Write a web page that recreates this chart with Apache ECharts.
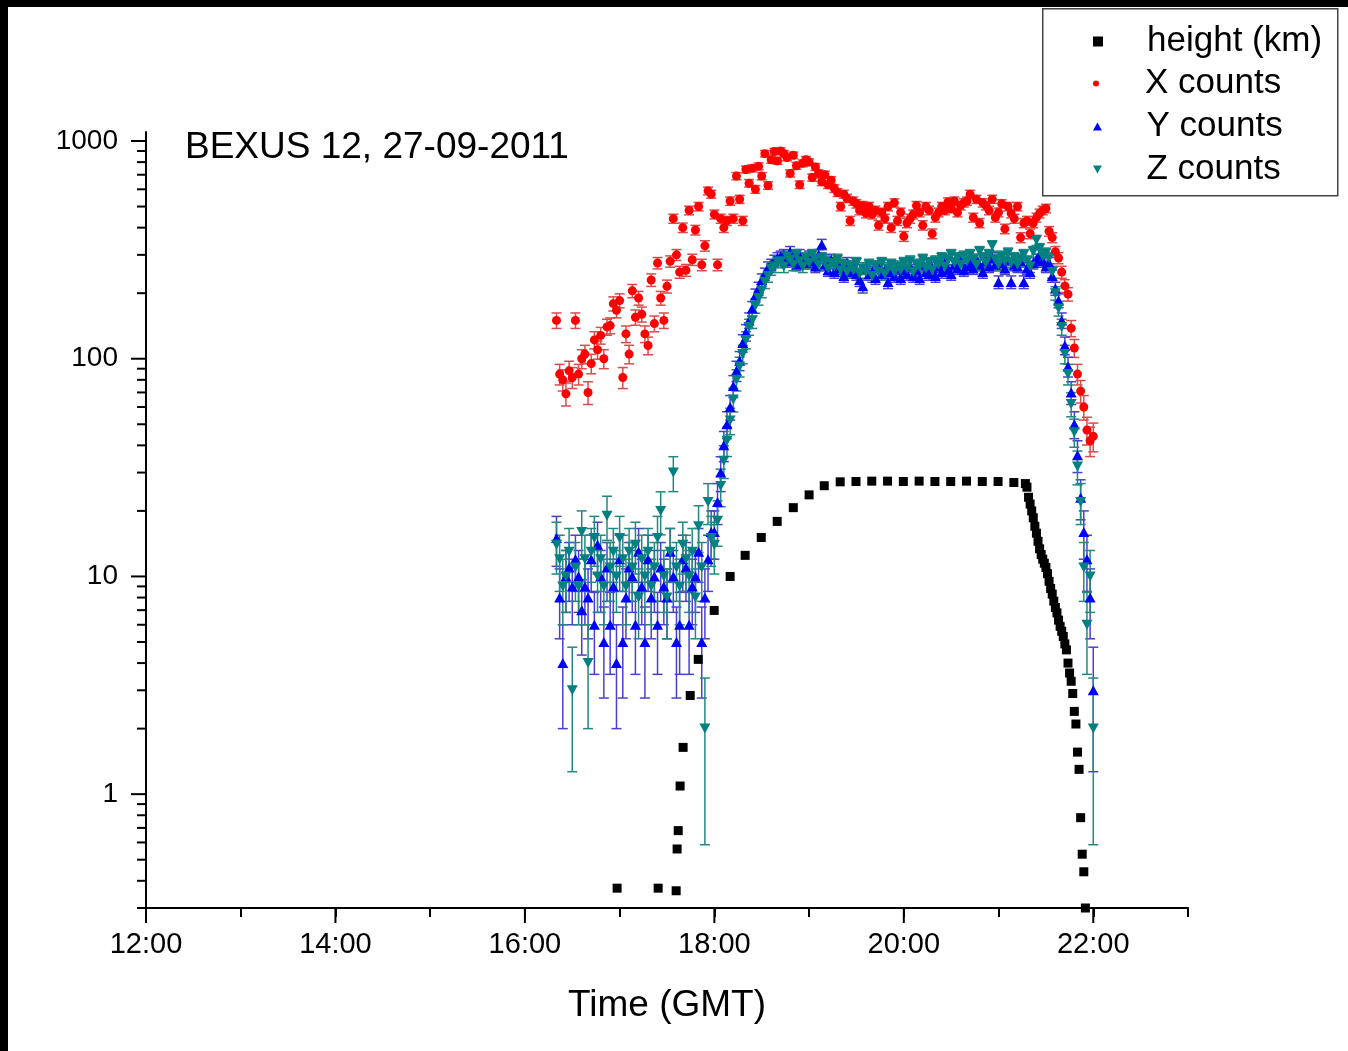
<!DOCTYPE html>
<html><head><meta charset="utf-8">
<script src="https://cdn.jsdelivr.net/npm/echarts@6/dist/echarts.min.js"></script>
<style>
html,body{margin:0;padding:0;background:#000;width:1348px;height:1051px;overflow:hidden}
#chart{position:absolute;left:8px;top:7px;width:1340px;height:1044px;background:#fff}
</style></head><body><div id="chart"></div>
<script>
// ---- time grid for counts (minutes since midnight): 16:20 + 2 min steps ----
const T_START = 16 * 60 + 20;
const T_STEP = 2;

// X counts (red)
const xCounts = [
  150, 85, 80, 69, 88, 82, 150, 85, 100, 105,
  70, 95, 122, 110, 128, 100, 140, 142, 179, 167,
  185, 82, 130, 105, 205, 155, 190, 160, 130, 115,
  230, 145, 275, 190, 150, 215, 280, 440, 300, 250,
  400, 255, 480, 285, 390, 500, 270, 330, 590, 570,
  460, 270, 440, 400, 430, 530, 440, 690, 540, 430,
  740, 640, 750, 600, 765, 690, 875, 625, 820, 895,
  810, 900, 875, 840, 710, 860, 770, 630, 790, 820,
  800, 680, 760, 710, 650, 700, 630, 660, 605, 580,
  500, 570, 545, 430, 530, 515, 480, 505, 465, 500,
  460, 480, 410, 470, 440, 500, 400, 520, 430, 470,
  365, 420, 440, 460, 505, 470, 410, 500, 480, 375,
  445, 470, 500, 480, 525, 490, 530, 470, 505, 520,
  530, 570, 445, 540, 420, 520, 505, 480, 540, 445,
  470, 515, 395, 500, 465, 440, 500, 360, 420, 430,
  375, 420, 445, 465, 480, 490, 385, 360, 310, 290,
  250, 216, 198, 138, 112, 85, 71, 60, 47, 42, 44
];

// Y counts (blue)
const yCounts = [
  15, 8, 4, 10, 11, 9, 12, 10, 7, 9,
  8, 12, 6, 14, 10, 5, 11, 6, 9, 4,
  12, 5, 8, 11, 10, 6, 13, 9, 5, 12,
  8, 10, 6, 11, 9, 8, 13, 10, 5, 6,
  12, 11, 6, 9, 10, 13, 5, 8, 12, 16,
  16, 22, 30, 40, 50, 60, 75, 88, 98, 118,
  132, 150, 170, 195, 210, 230, 245, 262, 270, 282, 290,
  295, 300, 280, 310, 290, 270, 300, 285, 275, 295,
  280, 265, 300, 335, 270, 255, 285, 250, 270, 260,
  240, 275, 250, 265, 245, 230, 215, 260, 245, 250,
  235, 265, 245, 255, 225, 250, 240, 260, 235, 255,
  245, 265, 240, 255, 235, 270, 250, 245, 260, 240,
  265, 250, 275, 255, 245, 270, 260, 280, 255, 265,
  275, 260, 285, 270, 250, 280, 265, 290, 270, 225,
  275, 260, 285, 225, 270, 265, 280, 225, 260, 250,
  275, 285, 300, 280, 265,
  275, 240, 210, 185, 150, 115, 92, 70, 50, 36, 23, 16, 12, 8, 3
];

// Z counts (teal)
const zCounts = [
  14, 12, 9, 10, 13, 3, 11, 9, 16, 12,
  4, 13, 15, 10, 12, 9, 19, 11, 13, 10,
  15, 12, 9, 13, 11, 14, 8, 12, 10, 13,
  9, 11, 15, 20, 10, 8, 13, 30, 11, 9,
  14, 12, 10, 13, 8, 17, 11, 2, 22, 15,
  14, 18, 26, 34, 42, 52, 65, 80, 92, 105,
  122, 140, 150, 175, 190, 205, 225, 240, 258, 265, 278,
  280, 265, 295, 285, 270, 300, 280, 265, 290, 275,
  300, 285, 270, 290, 280, 260, 275, 265, 285, 255,
  270, 250, 265, 255, 275, 245, 260, 250, 270, 240,
  265, 250, 275, 245, 260, 270, 250, 265, 255, 275,
  260, 280, 250, 270, 265, 285, 260, 275, 255, 280,
  270, 290, 265, 285, 300, 275, 290, 270, 295, 280,
  300, 285, 270, 310, 290, 275, 300, 330, 285, 270,
  295, 280, 305, 275, 290, 270, 285, 300, 280, 265,
  310, 350, 320, 295, 305,
  290, 250, 200, 170, 140, 105, 85, 62, 46, 32, 22, 11, 6, 10, 2
];

// Balloon height (km): times in minutes since midnight
const heightTimes = [
  1018.4, 1044.4, 1055.8, 1056.4, 1057.1, 1058.3, 1060.2, 1064.7, 1069.8, 1079.9,
  1090, 1099.5, 1109.7, 1119.8, 1130, 1140, 1149.6, 1159.7, 1169.7, 1179.7,
  1189.7, 1199.7, 1209.7, 1219.7, 1229.7, 1239.7, 1249.7, 1259.7, 1269.7, 1277,
  1278, 1279, 1280, 1281, 1282, 1283, 1284, 1285, 1286, 1287,
  1288, 1289, 1290, 1291, 1292, 1293, 1294, 1295, 1296, 1297,
  1298, 1299, 1300, 1301, 1302, 1303, 1304, 1305, 1306, 1307,
  1308, 1309, 1310, 1311, 1312, 1313, 1314, 1315
];
const heightKm = [
  0.37, 0.37, 0.36, 0.56, 0.68, 1.09, 1.64, 2.84, 4.16, 6.98,
  10.0, 12.5, 15.1, 17.9, 20.7, 23.7, 26.1, 27.2, 27.3, 27.4,
  27.4, 27.3, 27.4, 27.3, 27.3, 27.4, 27.3, 27.3, 27.0, 26.7,
  25.7, 23.1, 21.5, 20.0, 18.6, 17.0, 15.8, 14.5, 13.4, 12.6,
  12.0, 11.5, 11.0, 10.3, 9.5, 8.8, 8.3, 7.7, 7.2, 6.8,
  6.3, 5.9, 5.6, 5.3, 4.9, 4.6, 4.0, 3.6, 3.3, 2.9,
  2.4, 2.1, 1.56, 1.30, 0.78, 0.53, 0.44, 0.30
];

// axis ticks / labels
const xMajorTicks = [720, 840, 960, 1080, 1200, 1320];
const xTickLabels = ['12:00', '14:00', '16:00', '18:00', '20:00', '22:00'];
const yMajorTicks = [1, 10, 100, 1000];
const yTickLabels = ['1', '10', '100', '1000'];
const yMinorTicks = [0.3, 0.4, 0.5, 0.6, 0.7, 0.8, 0.9,
  2, 3, 4, 5, 6, 7, 8, 9, 20, 30, 40, 50, 60, 70, 80, 90,
  200, 300, 400, 500, 600, 700, 800, 900];

const X_MIN = 720, X_MAX = 1380, Y_MIN = 0.3, Y_MAX = 1100;
const FONT = "'Liberation Sans', Arial, sans-serif";

const toPairs = arr => arr.map((v, i) => [T_START + T_STEP * i, v]);
const xData = toPairs(xCounts), yData = toPairs(yCounts), zData = toPairs(zCounts);
const hData = heightTimes.map((t, i) => [t, heightKm[i]]);

function errSeries(name, data, color) {
  return {
    type: 'custom', name: name, data: data, clip: false, silent: true, z: 2,
    renderItem: function (params, api) {
      const t = api.value(0), v = api.value(1), e = Math.sqrt(v);
      const lo = Math.max(v - e, Y_MIN), hi = v + e;
      const pt = api.coord([t, hi]), pb = api.coord([t, lo]);
      const cw = 5;
      const st = { stroke: color, lineWidth: 1.5 };
      const ch = [
        { type: 'line', shape: { x1: pt[0], y1: pt[1], x2: pb[0], y2: pb[1] }, style: st },
        { type: 'line', shape: { x1: pt[0] - cw, y1: pt[1], x2: pt[0] + cw, y2: pt[1] }, style: st }
      ];
      if (v - e > Y_MIN) ch.push({ type: 'line', shape: { x1: pb[0] - cw, y1: pb[1], x2: pb[0] + cw, y2: pb[1] }, style: st });
      return { type: 'group', children: ch };
    }
  };
}
function tickSeries(name, values, axis, len) {
  return {
    type: 'custom', name: name, clip: false, silent: true, z: 5,
    data: values.map(v => axis === 'x' ? [v, Y_MIN] : [X_MIN, v]),
    renderItem: function (params, api) {
      const p = api.coord([api.value(0), api.value(1)]);
      const shape = axis === 'x'
        ? { x1: p[0], y1: p[1], x2: p[0], y2: p[1] + len }
        : { x1: p[0] - len, y1: p[1], x2: p[0], y2: p[1] };
      return { type: 'line', shape: shape, style: { stroke: '#000', lineWidth: 2 } };
    }
  };
}

const legendBase = {
  orient: 'vertical', left: 1085, itemWidth: 88, padding: 0, selectedMode: false,
  textStyle: { fontSize: 35, color: '#000', fontFamily: FONT }
};
const SQ = 'path://M0,0L10,0L10,10L0,10Z';
const TU = 'path://M5,0L10,9L0,9Z';
const TD = 'path://M0,0L10,0L5,9Z';

const chart = echarts.init(document.getElementById('chart'));
chart.setOption({
  animation: false,
  backgroundColor: '#fff',
  title: {
    text: 'BEXUS 12, 27-09-2011', left: 177, top: 122, padding: 0,
    textStyle: { fontSize: 37, fontWeight: 'normal', color: '#000', fontFamily: FONT }
  },
  graphic: [{
    type: 'rect', left: 1034, top: 1, z: 0,
    shape: { width: 295, height: 187 },
    style: { fill: '#fff', stroke: '#444', lineWidth: 1.5 }
  }],
  legend: [
    Object.assign({}, legendBase, { top: 17, itemHeight: 10, data: [{ name: 'height (km)', icon: SQ }] }),
    Object.assign({}, legendBase, { top: 59, itemHeight: 6, data: [{ name: 'X counts', icon: 'circle' }] }),
    Object.assign({}, legendBase, { top: 102, itemHeight: 8, data: [{ name: 'Y counts', icon: TU }] }),
    Object.assign({}, legendBase, { top: 145, itemHeight: 8, data: [{ name: 'Z counts', icon: TD }] })
  ],
  grid: { left: 138, top: 125, width: 1042, height: 776 },
  xAxis: {
    type: 'value', min: X_MIN, max: X_MAX, interval: 60,
    name: 'Time (GMT)', nameLocation: 'middle', nameGap: 79,
    nameTextStyle: { fontSize: 37, color: '#000', fontFamily: FONT },
    axisLine: { lineStyle: { color: '#000', width: 2 } },
    axisTick: { show: true, length: 9, lineStyle: { color: '#000', width: 2 } },
    axisLabel: {
      margin: 22, fontSize: 29, color: '#000', fontFamily: FONT,
      formatter: v => { const k = xMajorTicks.indexOf(v); return k >= 0 ? xTickLabels[k] : ''; }
    },
    splitLine: { show: false }
  },
  yAxis: {
    type: 'log', logBase: 10, min: Y_MIN, max: Y_MAX,
    axisLine: { show: true, lineStyle: { color: '#000', width: 2 } },
    axisTick: { show: false },
    axisLabel: {
      margin: 28, fontSize: 28, color: '#000', fontFamily: FONT,
      formatter: v => {
        for (let k = 0; k < yMajorTicks.length; k++) {
          if (Math.abs(v - yMajorTicks[k]) < 1e-6 * yMajorTicks[k]) return yTickLabels[k];
        }
        return '';
      }
    },
    splitLine: { show: false }
  },
  series: [
    tickSeries('xMajor', xMajorTicks, 'x', 15),
    tickSeries('yMajor', yMajorTicks, 'y', 15),
    tickSeries('yMinor', yMinorTicks, 'y', 9),
    errSeries('X err', xData, '#dc4b4b'),
    errSeries('Y err', yData, '#4a40cc'),
    errSeries('Z err', zData, '#23887f'),
    { type: 'scatter', name: 'X counts', data: xData, symbol: 'circle', symbolSize: 9,
      itemStyle: { color: '#ff0000', opacity: 1 }, z: 3 },
    { type: 'scatter', name: 'Y counts', data: yData, symbol: 'triangle', symbolSize: [11, 10],
      itemStyle: { color: '#0000ff', opacity: 1 }, z: 3 },
    { type: 'scatter', name: 'Z counts', data: zData, symbol: 'triangle', symbolRotate: 180, symbolSize: [11, 10],
      itemStyle: { color: '#008080', opacity: 1 }, z: 3 },
    { type: 'scatter', name: 'height (km)', data: hData, symbol: 'rect', symbolSize: 9,
      itemStyle: { color: '#000', opacity: 1 }, z: 4 }
  ]
});
</script></body></html>
